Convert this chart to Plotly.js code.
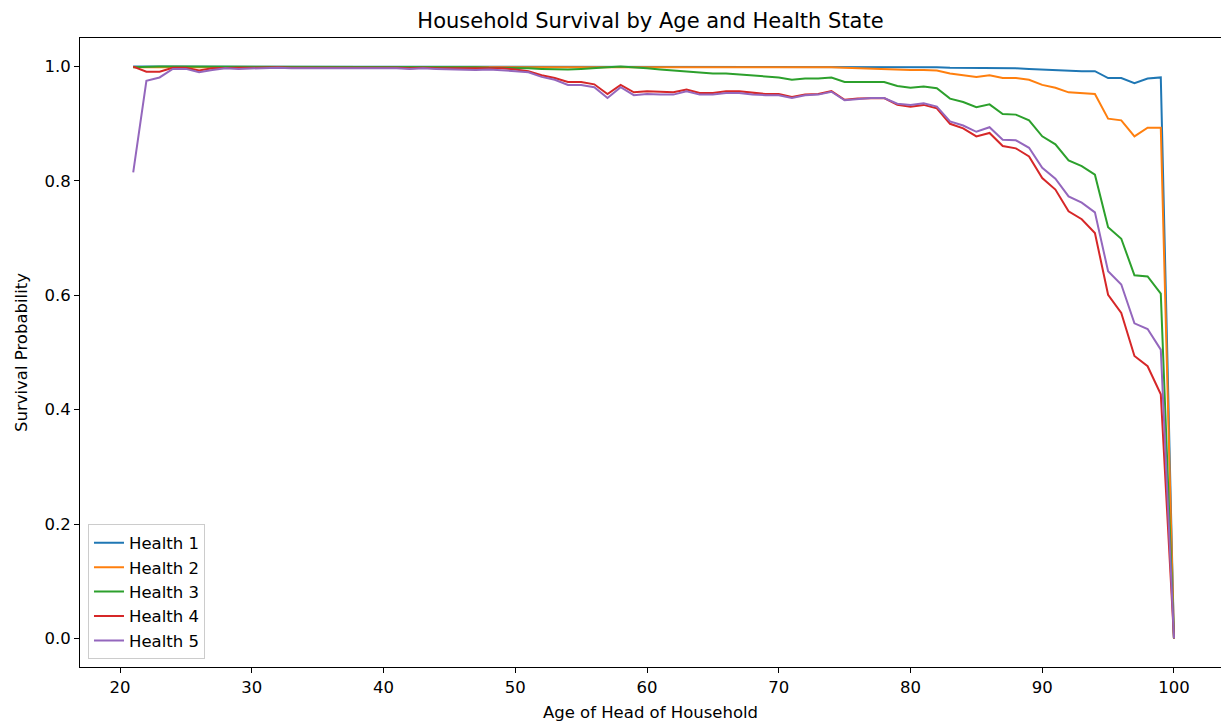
<!DOCTYPE html>
<html>
<head>
<meta charset="utf-8">
<script src="https://cdn.plot.ly/plotly-3.0.1.min.js"></script>
<style>html,body{margin:0;padding:0;background:#fff;}#chart{width:1221px;height:726px;}</style>
</head>
<body>
<div id="chart"></div>
<script>
const ages = [21,22,23,24,25,26,27,28,29,30,31,32,33,34,35,36,37,38,39,40,
  41,42,43,44,45,46,47,48,49,50,51,52,53,54,55,56,57,58,59,60,
  61,62,63,64,65,66,67,68,69,70,71,72,73,74,75,76,77,78,79,80,
  81,82,83,84,85,86,87,88,89,90,91,92,93,94,95,96,97,98,99,100];

const health1 = [1,1,1,1,1,1,1,1,1,1,1,1,1,1,1,1,1,1,1,1,
  1,1,1,1,1,1,1,1,1,1,1,1,1,1,1,1,1,1,1,1,
  1,1,1,1,1,1,1,1,1,1,1,1,1,1,0.9995,0.9995,0.999,0.999,0.999,0.999,
  0.999,0.999,0.998,0.998,0.997,0.998,0.997,0.997,0.996,0.995,0.994,0.992,0.992,0.992,0.980,0.980,0.971,0.979,0.981,0.0];

const health2 = [0.999,0.999,0.999,0.999,0.999,0.999,0.999,0.999,0.999,0.999,0.999,0.999,0.999,0.999,0.999,0.999,0.999,0.999,0.999,0.999,
  0.999,0.999,0.999,0.999,0.999,0.999,0.999,0.999,0.999,0.999,0.999,0.999,1,1,1,1,1,1,1,1,
  1,1,1,1,1,1,1,1,1,1,1,1,1,0.999,0.998,0.997,0.997,0.996,0.995,0.994,
  0.994,0.993,0.988,0.985,0.982,0.985,0.980,0.980,0.977,0.968,0.963,0.955,0.954,0.952,0.909,0.906,0.878,0.893,0.893,0.0];

const health3 = [0.999,1,1,1,1,0.999,0.999,0.999,0.999,0.999,0.999,0.999,0.999,0.999,0.999,0.999,0.999,0.999,0.999,0.999,
  0.999,0.999,0.999,0.999,0.999,0.999,0.999,0.998,0.998,0.997,0.997,0.996,0.995,0.995,0.996,0.998,0.999,1.0,0.999,0.997,
  0.995,0.993,0.992,0.989,0.988,0.988,0.986,0.984,0.982,0.981,0.977,0.979,0.979,0.981,0.973,0.973,0.974,0.973,0.966,0.963,
  0.965,0.962,0.944,0.938,0.929,0.934,0.917,0.916,0.906,0.878,0.864,0.836,0.826,0.811,0.719,0.699,0.635,0.633,0.603,0.0];

const health4 = [1.0,0.991,0.991,0.998,0.998,0.993,0.997,0.998,0.998,0.998,0.999,0.999,0.998,0.998,0.998,0.999,0.998,0.998,0.998,0.998,
  0.998,0.997,0.998,0.997,0.997,0.997,0.996,0.997,0.997,0.995,0.992,0.985,0.980,0.973,0.973,0.969,0.952,0.968,0.955,0.957,
  0.956,0.955,0.960,0.954,0.954,0.957,0.957,0.954,0.952,0.952,0.947,0.951,0.952,0.957,0.942,0.944,0.945,0.945,0.933,0.930,
  0.933,0.927,0.900,0.892,0.878,0.884,0.861,0.857,0.843,0.805,0.785,0.747,0.733,0.709,0.601,0.569,0.494,0.476,0.427,0.0];

const health5 = [0.815,0.975,0.981,0.996,0.996,0.990,0.994,0.997,0.996,0.997,0.998,0.998,0.997,0.997,0.997,0.998,0.997,0.998,0.997,0.997,
  0.997,0.996,0.997,0.996,0.995,0.995,0.994,0.995,0.994,0.992,0.990,0.982,0.977,0.968,0.968,0.964,0.945,0.964,0.950,0.952,
  0.951,0.951,0.957,0.951,0.951,0.954,0.954,0.951,0.950,0.950,0.945,0.950,0.951,0.956,0.941,0.943,0.945,0.945,0.935,0.933,
  0.936,0.930,0.904,0.897,0.886,0.894,0.872,0.871,0.858,0.823,0.804,0.773,0.762,0.745,0.642,0.619,0.551,0.541,0.505,0.0];

const seriesNames = ["Health 1","Health 2","Health 3","Health 4","Health 5"];
const seriesValues = [health1, health2, health3, health4, health5];
const colors = ["#1f77b4","#ff7f0e","#2ca02c","#d62728","#9467bd"];

const traces = seriesValues.map((vals, i) => ({
  x: ages, y: vals, type: "scatter", mode: "lines", name: seriesNames[i],
  line: {color: colors[i], width: 2}
}));

const font = "DejaVu Sans, sans-serif";
const layout = {
  width: 1221, height: 726,
  paper_bgcolor: "#fff", plot_bgcolor: "#fff",
  margin: {l: 80, r: 0, t: 38, b: 59},
  font: {family: font, color: "#000", size: 16},
  title: {text: "Household Survival by Age and Health State", font: {family: font, size: 21, color: "#000"}, xref: "paper", x: 0.5, xanchor: "center", yref: "container", y: 0.972, yanchor: "middle"},
  xaxis: {
    range: [16.96, 103.57], tickvals: [20,30,40,50,60,70,80,90,100],
    showgrid: false, zeroline: false, showline: true, linecolor: "#000", linewidth: 1, mirror: true,
    ticks: "outside", ticklen: 5, tickcolor: "#000", tickfont: {size: 16.5},
    title: {text: "Age of Head of Household", font: {size: 16.5}, standoff: 10}
  },
  yaxis: {
    range: [-0.05, 1.05], tickvals: [0,0.2,0.4,0.6,0.8,1.0], ticktext: ["0.0","0.2","0.4","0.6","0.8","1.0"],
    showgrid: false, zeroline: false, showline: true, linecolor: "#000", linewidth: 1, mirror: true,
    ticks: "outside", ticklen: 5, tickcolor: "#000", tickfont: {size: 16.5},
    title: {text: "Survival Probability", font: {size: 16.5}, standoff: 12}
  },
  legend: {x: 0.007, y: 0.012, xanchor: "left", yanchor: "bottom", bgcolor: "rgba(255,255,255,0.8)", bordercolor: "#ccc", borderwidth: 1, font: {size: 16.5}, tracegroupgap: 0},
  showlegend: true
};

Plotly.newPlot("chart", traces, layout, {displayModeBar: false, staticPlot: true});
</script>
</body>
</html>
